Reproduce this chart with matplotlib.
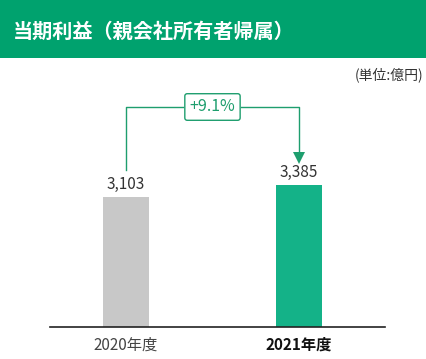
import matplotlib
matplotlib.use("Agg")
import matplotlib.pyplot as plt
from matplotlib.patches import Rectangle

plt.rcParams['font.family'] = ['Noto Sans CJK JP', 'DejaVu Sans']

title = "当期利益（親会社所有者帰属）"
unit = "(単位:億円)"
categories = ["2020年度", "2021年度"]
values = [3103, 3385]
value_labels = ["3,103", "3,385"]
change_label = "+9.1%"

W, H = 427, 359
fig = plt.figure(figsize=(W / 100, H / 100), dpi=100)

# header band
fig.patches.append(Rectangle((0, 1 - 58 / H), 1, 58 / H, transform=fig.transFigure,
                             facecolor="#00A26E", edgecolor="none", zorder=0))
fig.text(13 / W, 1 - 31 / H, title, color="white", fontsize=14.5, fontweight="bold",
         va="center", ha="left")
fig.text(423 / W, 1 - 75 / H, unit, color="#333333", fontsize=10, va="center", ha="right")

# axes: x pixels 50..385, baseline at y=327, top at y=60
ax_left, ax_right = 50, 385
base_y, top_y = 327, 60
ax = fig.add_axes([ax_left / W, (H - base_y) / H, (ax_right - ax_left) / W, (base_y - top_y) / H])
px_per_unit = 142 / values[1]
ax.set_ylim(0, (base_y - top_y) / px_per_unit)
ax.set_xlim(-0.439, 1.497)

colors = ["#C8C8C8", "#14B288"]
x = [0, 1]
ax.bar(x, values, width=0.266, color=colors, zorder=2)
for xi, v, lab in zip(x, values, value_labels):
    ax.annotate(lab, (xi, v), xytext=(0, 3), textcoords="offset points",
                ha="center", va="bottom", fontsize=11, color="#333333")

for s in ["top", "right", "left"]:
    ax.spines[s].set_visible(False)
ax.spines["bottom"].set_color("#222222")
ax.spines["bottom"].set_linewidth(1.2)
ax.set_yticks([])
ax.set_xticks(x)
ax.set_xticklabels(categories, fontsize=11)
ax.tick_params(axis="x", length=0, pad=7)
tl = ax.get_xticklabels()
tl[0].set_color("#444444")
tl[1].set_color("#111111")
tl[1].set_fontweight("bold")

# bracket
green = "#1E9E6E"
u = 1 / px_per_unit
y_start = values[0] + 27 * u
y_top = values[1] + 78 * u
y_arrow = values[1] + 30 * u
box_w = 58 / 173
ax.plot([0, 0, 0.5 - box_w / 2], [y_start, y_top, y_top], color=green, lw=1, zorder=3)
ax.plot([0.5 + box_w / 2, 1, 1], [y_top, y_top, y_arrow], color=green, lw=1, zorder=3)
ax.plot([1], [y_arrow - 3 * u], marker="v", markersize=8, color=green,
        markeredgewidth=0, zorder=3)
ax.text(0.5, y_top, change_label, ha="center", va="center", fontsize=11.5, color=green,
        bbox=dict(boxstyle="round,pad=0.3,rounding_size=0.15", facecolor="white",
                  edgecolor=green, linewidth=1), zorder=4)

fig.savefig("out.png", dpi=100)
